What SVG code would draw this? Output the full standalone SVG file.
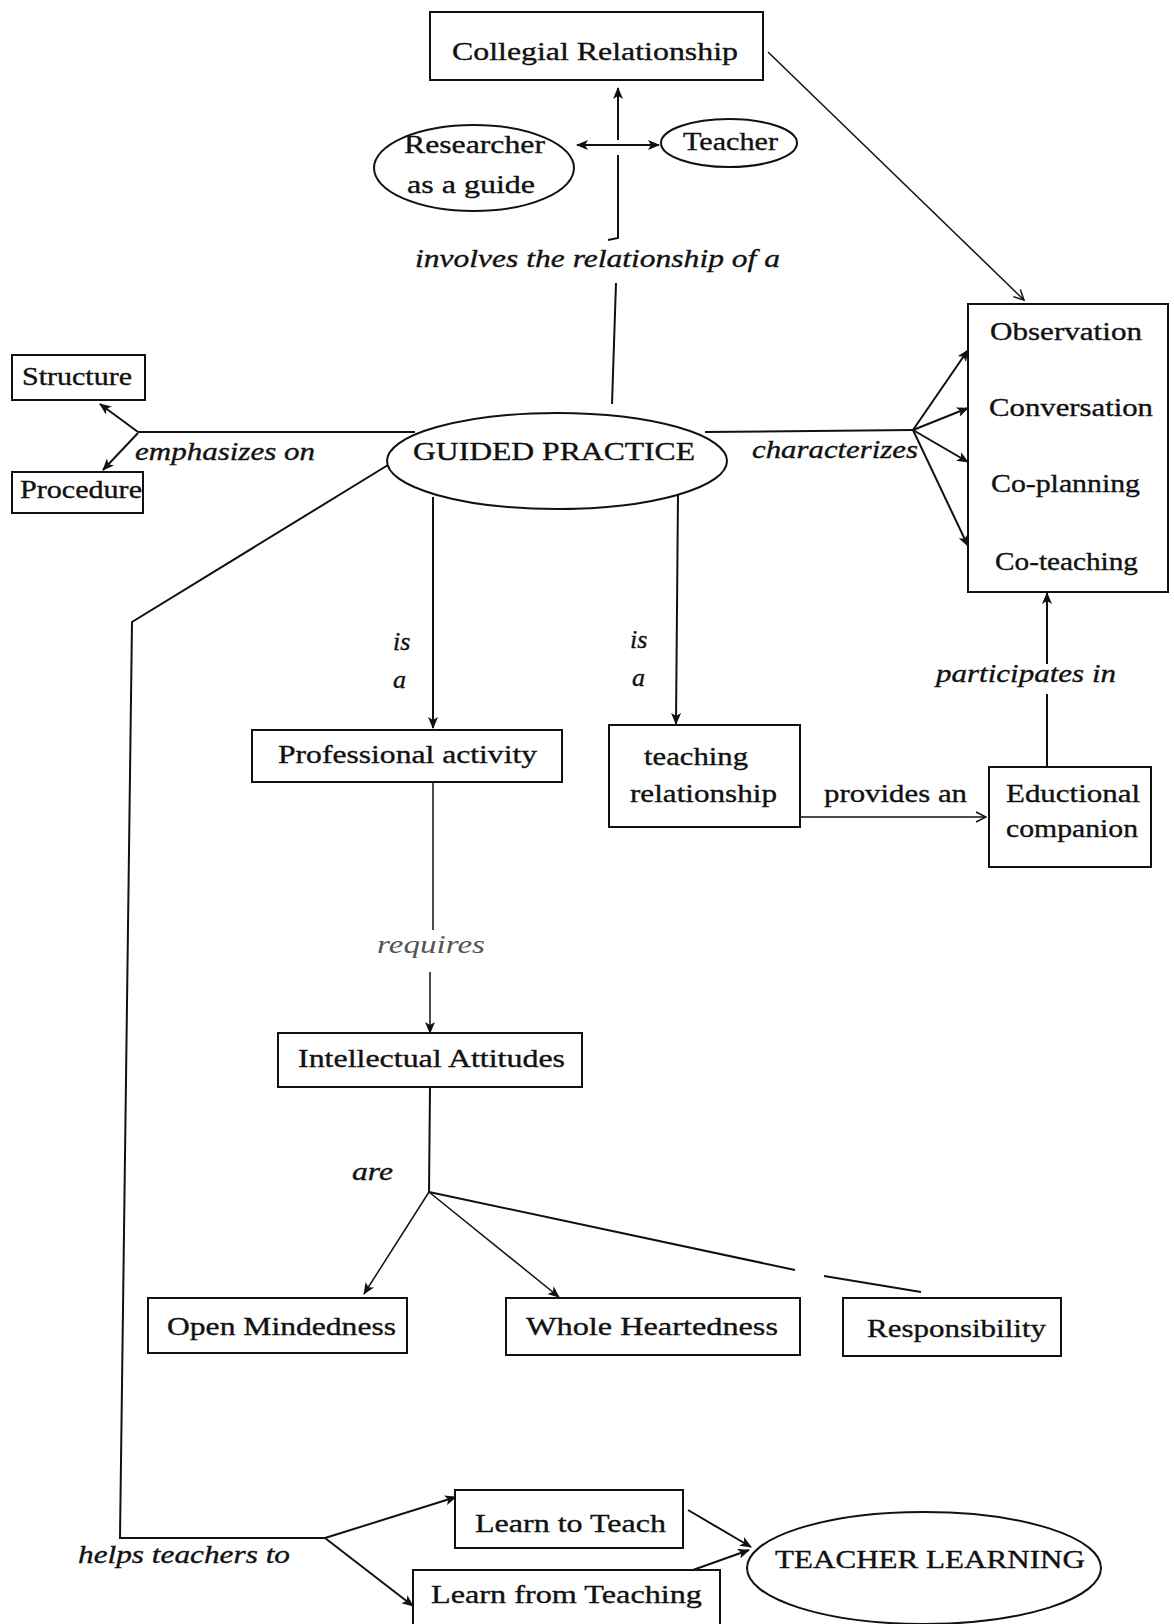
<svg xmlns="http://www.w3.org/2000/svg" width="1174" height="1624" viewBox="0 0 1174 1624">
<style>
.bx{fill:#fff;stroke:#111;stroke-width:2}
.el{fill:#fff;stroke:#111;stroke-width:2}
.t{font-family:"Liberation Serif","Times New Roman",serif;fill:#111;font-size:26px;stroke:#111;stroke-width:0.35}
.i{font-style:italic}
.c{fill:none;stroke:#111;stroke-width:2}
.th{stroke-width:1.5}
.a{marker-end:url(#ah)}
.o{marker-end:url(#oh)}
</style>
<defs>
<marker id="ah" viewBox="0 0 12 10" refX="11" refY="5" markerWidth="12" markerHeight="10" markerUnits="userSpaceOnUse" orient="auto-start-reverse">
<path d="M0,0 L12,5 L0,10 L3,5 z" fill="#111"/>
</marker>
<marker id="oh" viewBox="0 0 12 12" refX="11" refY="6" markerWidth="12" markerHeight="12" markerUnits="userSpaceOnUse" orient="auto">
<path d="M1,1 L11,6 L1,11" fill="none" stroke="#111" stroke-width="1.5"/>
</marker>
</defs>
<rect width="1174" height="1624" fill="#fff"/>

<g id="connectors">
<path class="c" d="M612,404 L616,283"/>
<path class="c" d="M618,155 L618,238 L608,240"/>
<path class="c a" d="M618,140 L618,88"/>
<path class="c" d="M577,145 L659,145" marker-start="url(#ah)" marker-end="url(#ah)"/>
<path class="c th o" d="M768,52 L1024,300"/>
<path class="c" d="M415,432 L138,432"/>
<path class="c a" d="M138,432 L100,404"/>
<path class="c a" d="M138,433 L103,470"/>
<path class="c" d="M705,432 L913,430"/>
<path class="c a" d="M913,430 L968,350"/>
<path class="c a" d="M913,430 L968,408"/>
<path class="c a" d="M913,430 L968,462"/>
<path class="c a" d="M913,430 L968,546"/>
<path class="c" d="M388,465 L132,622 L120,1538 L325,1538"/>
<path class="c a" d="M325,1538 L456,1497"/>
<path class="c a" d="M325,1538 L413,1606"/>
<path class="c a" d="M433,497 L433,728"/>
<path class="c a" d="M678,493 L676,724"/>
<path class="c th" d="M433,782 L433,930"/>
<path class="c th a" d="M430,972 L430,1033"/>
<path class="c" d="M430,1087 L429,1192"/>
<path class="c th a" d="M429,1192 L364,1294"/>
<path class="c th a" d="M429,1192 L559,1297"/>
<path class="c" d="M429,1192 L795,1270 M824,1276 L921,1292"/>
<path class="c th o" d="M800,817 L986,817"/>
<path class="c" d="M1047,767 L1047,694"/>
<path class="c a" d="M1047,664 L1047,593"/>
<path class="c a" d="M688,1510 L751,1547"/>
<path class="c a" d="M693,1570 L749,1550"/>
</g>

<g id="collegial">
<rect class="bx" x="430" y="12" width="333" height="68"/>
<text class="t" x="452" y="60" font-size="30" textLength="286" lengthAdjust="spacingAndGlyphs">Collegial Relationship</text>
</g>
<g id="researcher">
<ellipse class="el" cx="474" cy="168" rx="100" ry="43"/>
<text class="t" x="404" y="153" textLength="141" lengthAdjust="spacingAndGlyphs">Researcher</text>
<text class="t" x="407" y="193" textLength="128" lengthAdjust="spacingAndGlyphs">as a guide</text>
</g>
<g id="teacher">
<ellipse class="el" cx="729" cy="143" rx="68" ry="24"/>
<text class="t" x="683" y="150" textLength="95" lengthAdjust="spacingAndGlyphs">Teacher</text>
</g>
<text class="t i" x="415" y="267" textLength="365" lengthAdjust="spacingAndGlyphs">involves the relationship of a</text>

<g id="structure">
<rect class="bx" x="12" y="355" width="133" height="45"/>
<text class="t" x="22" y="385" font-size="24" textLength="110" lengthAdjust="spacingAndGlyphs">Structure</text>
</g>
<g id="procedure">
<rect class="bx" x="12" y="472" width="131" height="41"/>
<text class="t" x="20" y="498" font-size="24" textLength="122" lengthAdjust="spacingAndGlyphs">Procedure</text>
</g>
<text class="t i" x="135" y="460" font-size="24" textLength="180" lengthAdjust="spacingAndGlyphs">emphasizes on</text>

<g id="guided">
<ellipse class="el" cx="557" cy="461" rx="170" ry="48"/>
<text class="t" x="413" y="460" font-size="28" textLength="282" lengthAdjust="spacingAndGlyphs">GUIDED PRACTICE</text>
</g>
<text class="t i" x="752" y="458" font-size="24" textLength="166" lengthAdjust="spacingAndGlyphs">characterizes</text>

<g id="activities">
<rect class="bx" x="968" y="304" width="200" height="288"/>
<text class="t" x="990" y="340" textLength="152" lengthAdjust="spacingAndGlyphs">Observation</text>
<text class="t" x="989" y="416" textLength="164" lengthAdjust="spacingAndGlyphs">Conversation</text>
<text class="t" x="991" y="492" textLength="149" lengthAdjust="spacingAndGlyphs">Co-planning</text>
<text class="t" x="995" y="570" textLength="143" lengthAdjust="spacingAndGlyphs">Co-teaching</text>
</g>

<text class="t i" x="393" y="650">is</text>
<text class="t i" x="393" y="688">a</text>
<text class="t i" x="630" y="648">is</text>
<text class="t i" x="632" y="686">a</text>

<g id="professional">
<rect class="bx" x="252" y="730" width="310" height="52"/>
<text class="t" x="278" y="763" textLength="259" lengthAdjust="spacingAndGlyphs">Professional activity</text>
</g>
<g id="teaching">
<rect class="bx" x="609" y="725" width="191" height="102"/>
<text class="t" x="644" y="765" textLength="104" lengthAdjust="spacingAndGlyphs">teaching</text>
<text class="t" x="630" y="802" textLength="147" lengthAdjust="spacingAndGlyphs">relationship</text>
</g>
<text class="t" x="824" y="802" textLength="143" lengthAdjust="spacingAndGlyphs">provides an</text>
<g id="eductional">
<rect class="bx" x="989" y="767" width="162" height="100"/>
<text class="t" x="1006" y="802" textLength="134" lengthAdjust="spacingAndGlyphs">Eductional</text>
<text class="t" x="1006" y="837" textLength="132" lengthAdjust="spacingAndGlyphs">companion</text>
</g>
<text class="t i" x="936" y="682" textLength="180" lengthAdjust="spacingAndGlyphs">participates in</text>

<text class="t i" x="377" y="953" style="fill:#555;stroke:none" font-size="22" textLength="108" lengthAdjust="spacingAndGlyphs">requires</text>
<g id="intellectual">
<rect class="bx" x="278" y="1033" width="304" height="54"/>
<text class="t" x="298" y="1067" textLength="267" lengthAdjust="spacingAndGlyphs">Intellectual Attitudes</text>
</g>
<text class="t i" x="352" y="1180" textLength="41" lengthAdjust="spacingAndGlyphs">are</text>

<g id="open">
<rect class="bx" x="148" y="1298" width="259" height="55"/>
<text class="t" x="167" y="1335" textLength="229" lengthAdjust="spacingAndGlyphs">Open Mindedness</text>
</g>
<g id="whole">
<rect class="bx" x="506" y="1298" width="294" height="57"/>
<text class="t" x="526" y="1335" textLength="252" lengthAdjust="spacingAndGlyphs">Whole Heartedness</text>
</g>
<g id="responsibility">
<rect class="bx" x="843" y="1298" width="218" height="58"/>
<text class="t" x="867" y="1337" textLength="179" lengthAdjust="spacingAndGlyphs">Responsibility</text>
</g>

<text class="t i" x="78" y="1563" textLength="212" lengthAdjust="spacingAndGlyphs">helps teachers to</text>
<g id="learn-to-teach">
<rect class="bx" x="455" y="1490" width="228" height="58"/>
<text class="t" x="475" y="1532" textLength="191" lengthAdjust="spacingAndGlyphs">Learn to Teach</text>
</g>
<g id="learn-from-teaching">
<rect class="bx" x="413" y="1570" width="307" height="70"/>
<text class="t" x="431" y="1603" textLength="271" lengthAdjust="spacingAndGlyphs">Learn from Teaching</text>
</g>
<g id="teacher-learning">
<ellipse class="el" cx="924" cy="1568" rx="177" ry="56"/>
<text class="t" x="775" y="1568" font-size="28" textLength="310" lengthAdjust="spacingAndGlyphs">TEACHER LEARNING</text>
</g>
</svg>
